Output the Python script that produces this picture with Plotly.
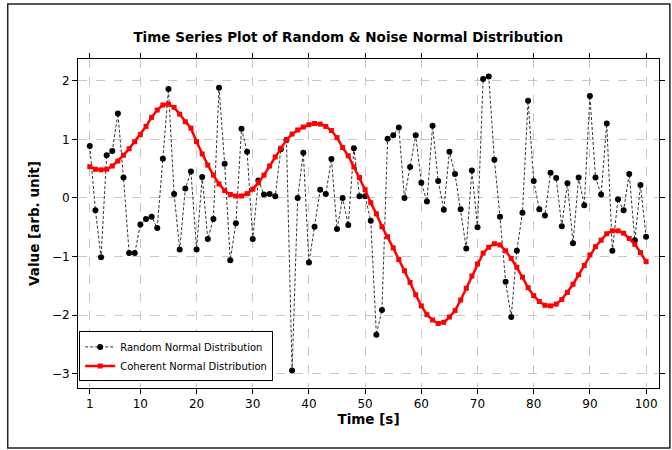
import plotly.graph_objects as go

time_s = list(range(1, 101))

random_values = [
    0.886, -0.21, -1.01, 0.727, 0.80, 1.44, 0.35, -0.94, -0.94, -0.45,
    -0.36, -0.32, -0.51, 0.67, 1.86, 0.07, -0.88, 0.16, 0.45, -0.88,
    0.36, -0.70, -0.36, 1.88, 0.585, -1.06, -0.43, 1.18, 0.79, -0.70,
    0.30, 0.06, 0.07, 0.03, 0.83, 0.99, -2.94, 0.0, 0.77, -1.10,
    -0.49, 0.14, 0.07, 0.665, -0.53, 0.0, -0.46, 0.85, 0.03, 0.03,
    -0.39, -2.33, -1.91, 1.01, 1.07, 1.20, 0.0, 0.53, 1.07, 0.26,
    -0.06, 1.23, 0.29, -0.20, 0.79, 0.41, -0.19, -0.86, 0.47, -0.50,
    2.03, 2.07, 0.65, -0.32, -1.43, -2.03, -0.90, -0.25, 1.66, 0.29,
    -0.19, -0.30, 0.43, 0.34, -0.48, 0.25, -0.77, 0.35, -0.125, 1.74,
    0.35, 0.06, 1.27, -0.90, -0.02, -0.21, 0.41, -0.72, 0.22, -0.66,
]

coherent_values = [
    0.534, 0.49, 0.48, 0.49, 0.545, 0.63, 0.73, 0.84, 0.96, 1.08,
    1.22, 1.375, 1.50, 1.585, 1.60, 1.545, 1.43, 1.30, 1.19, 0.96,
    0.75, 0.56, 0.39, 0.24, 0.125, 0.06, 0.034, 0.034, 0.074, 0.15,
    0.26, 0.39, 0.545, 0.70, 0.85, 0.99, 1.09, 1.16, 1.21, 1.25,
    1.27, 1.26, 1.22, 1.15, 1.03, 0.86, 0.72, 0.53, 0.35, 0.14,
    -0.08, -0.27, -0.49, -0.66, -0.85, -1.05, -1.24, -1.44, -1.65, -1.84,
    -1.99, -2.08, -2.14, -2.12, -2.03, -1.92, -1.74, -1.54, -1.33, -1.125,
    -0.94, -0.84, -0.78, -0.80, -0.90, -1.03, -1.18, -1.35, -1.53, -1.665,
    -1.765, -1.83, -1.84, -1.81, -1.73, -1.61, -1.47, -1.31, -1.15, -0.97,
    -0.83, -0.72, -0.61, -0.56, -0.56, -0.60, -0.69, -0.79, -0.93, -1.085,
]

x_ticks = [1, 10, 20, 30, 40, 50, 60, 70, 80, 90, 100]
y_ticks = [-3, -2, -1, 0, 1, 2]

FONT = "DejaVu Sans"

fig = go.Figure()
fig.add_trace(go.Scatter(
    x=time_s, y=random_values, mode="lines+markers",
    name="Random Normal Distribution",
    line=dict(color="#333333", width=1, dash="3px,2px"),
    marker=dict(symbol="circle", size=6, color="black"),
))
fig.add_trace(go.Scatter(
    x=time_s, y=coherent_values, mode="lines+markers",
    name="Coherent Normal Distribution",
    line=dict(color="#ff0000", width=2.5),
    marker=dict(symbol="square", size=5, color="#ff0000"),
))

axis_common = dict(
    showline=True, linecolor="black", linewidth=1, mirror="ticks",
    ticks="outside", ticklen=5, tickcolor="black",
    showgrid=True, gridcolor="#c8c8c8", griddash="dash", gridwidth=1,
    zeroline=False, tickfont=dict(family=FONT, size=12, color="black"),
)

fig.update_xaxes(range=[-1.1, 102.3], tickvals=x_ticks,
                 title=dict(text="<b>Time [s]</b>", font=dict(family=FONT, size=13.5, color="black"), standoff=4),
                 **axis_common)
fig.update_yaxes(range=[-3.24, 2.37], tickvals=y_ticks,
                 title=dict(text="<b>Value [arb. unit]</b>", font=dict(family=FONT, size=13.5, color="black"), standoff=9),
                 **axis_common)

fig.update_layout(
    width=672, height=450,
    margin=dict(l=78, r=7, t=59, b=62),
    paper_bgcolor="white", plot_bgcolor="white",
    title=dict(text="<b>Time Series Plot of Random & Noise Normal Distribution</b>",
               font=dict(family=FONT, size=13.5, color="black"),
               x=(351 - 78) / 587, xref="paper", xanchor="center", y=1 - 37 / 450, yanchor="middle"),
    legend=dict(x=0.002, y=0.02, xanchor="left", yanchor="bottom",
                bgcolor="white", bordercolor="black", borderwidth=1,
                font=dict(family=FONT, size=10, color="black"),
                tracegroupgap=0),
    shapes=[dict(type="rect", xref="paper", yref="paper",
                 x0=(7 - 78) / 587, x1=(676 - 78) / 587,
                 y0=(388 - 448) / 329, y1=(388 - 4) / 329,
                 line=dict(color="#222222", width=1.5), fillcolor="rgba(0,0,0,0)", layer="below")],
)

fig.write_html("out.html", config={"displayModeBar": False},
               post_script="document.body.style.margin='0px';document.body.style.overflow='hidden';")
